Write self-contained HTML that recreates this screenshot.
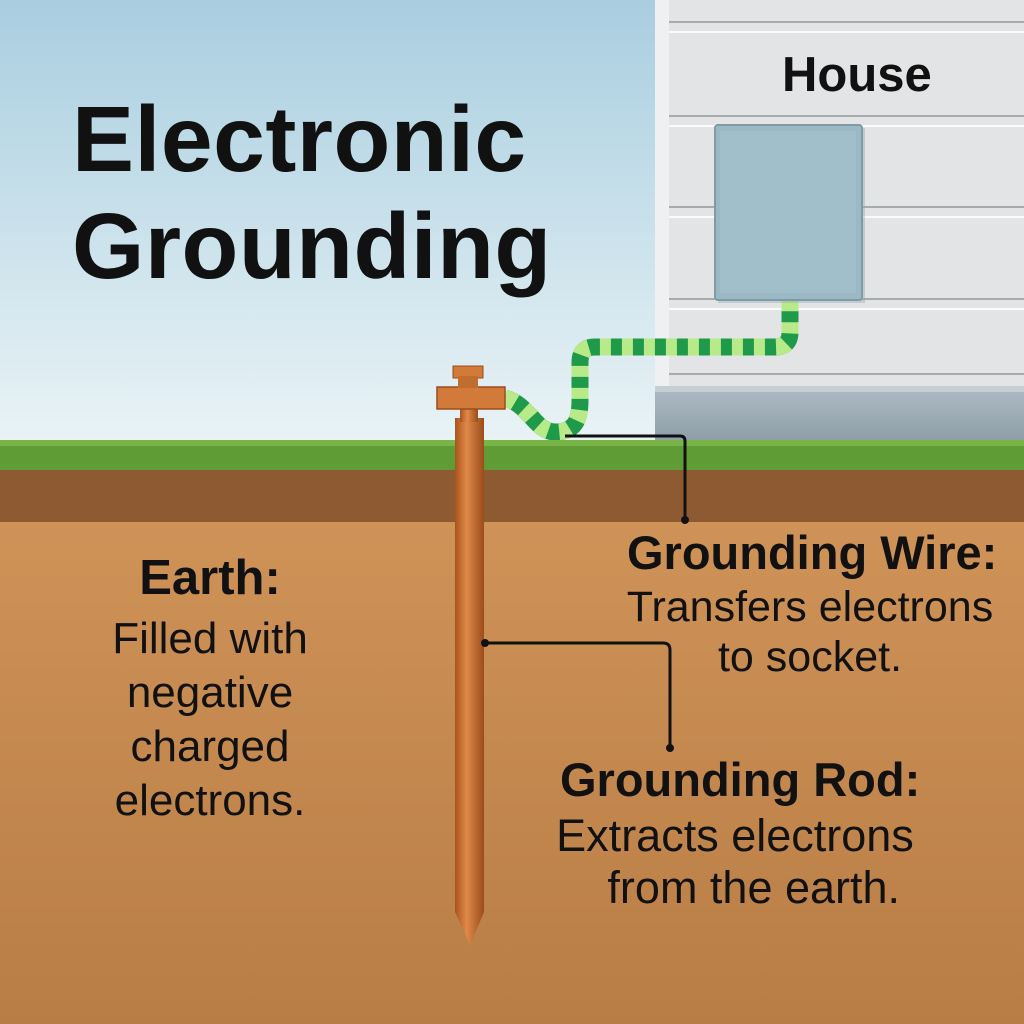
<!DOCTYPE html>
<html><head><style>
body{margin:0;width:1024px;height:1024px;overflow:hidden;font-family:"Liberation Sans",sans-serif;}
.t{position:absolute;white-space:nowrap;color:#111;}
</style></head><body>
<svg width="1024" height="1024" style="position:absolute;left:0;top:0">
<defs>
<linearGradient id="sky" x1="0" y1="0" x2="0" y2="1"><stop offset="0" stop-color="#a9cee0"/><stop offset="1" stop-color="#e9f3f6"/></linearGradient>
<linearGradient id="dirt" x1="0" y1="0" x2="0" y2="1"><stop offset="0" stop-color="#cf9358"/><stop offset="1" stop-color="#b87d45"/></linearGradient>
<linearGradient id="rod" x1="0" y1="0" x2="1" y2="0"><stop offset="0" stop-color="#a9541c"/><stop offset="0.4" stop-color="#e0894a"/><stop offset="1" stop-color="#9a4c1a"/></linearGradient>
<linearGradient id="found" x1="0" y1="0" x2="0" y2="1"><stop offset="0" stop-color="#aebcc4"/><stop offset="1" stop-color="#8d9ea8"/></linearGradient>
</defs>
<rect width="1024" height="440" fill="url(#sky)"/>
<rect x="655" y="0" width="369" height="390" fill="#e3e4e6"/>
<rect x="655" y="0" width="14" height="390" fill="#eef0f1"/>
<g stroke="#a8abae" stroke-width="2">
<line x1="669" y1="22" x2="1024" y2="22"/><line x1="669" y1="116" x2="1024" y2="116"/><line x1="669" y1="207" x2="1024" y2="207"/><line x1="669" y1="299" x2="1024" y2="299"/><line x1="669" y1="374" x2="1024" y2="374"/>
</g>
<g stroke="#fafafa" stroke-width="2">
<line x1="669" y1="32" x2="1024" y2="32"/><line x1="669" y1="126" x2="1024" y2="126"/><line x1="669" y1="217" x2="1024" y2="217"/><line x1="669" y1="309" x2="1024" y2="309"/>
</g>
<rect x="655" y="386" width="369" height="56" fill="url(#found)"/>
<rect x="655" y="386" width="369" height="6" fill="#c4ced3"/>
<path d="M505 398 C530 405 535 432 555 432 C575 432 580 420 580 400 L580 362 Q580 347 595 347 L775 347 Q790 347 790 332 L790 290" fill="none" stroke="#1e9a4a" stroke-width="17"/>
<path d="M505 398 C530 405 535 432 555 432 C575 432 580 420 580 400 L580 362 Q580 347 595 347 L775 347 Q790 347 790 332 L790 290" fill="none" stroke="#b8ea8a" stroke-width="17" stroke-dasharray="11 11"/>
<rect x="718" y="128" width="147" height="175" fill="#8fa5ae" opacity="0.4"/>
<rect x="715" y="125" width="147" height="175" rx="3" fill="#9bb9c4" stroke="#7f9aa5" stroke-width="2"/>
<rect x="720" y="131" width="136" height="162" fill="#a0bfca"/>
<rect x="0" y="440" width="1024" height="30" fill="#5f9c35"/>
<rect x="0" y="440" width="1024" height="6" fill="#79b446"/>
<rect x="0" y="470" width="1024" height="52" fill="#8e5a31"/>
<rect x="0" y="522" width="1024" height="502" fill="url(#dirt)"/>
<path d="M455 418 L484 418 L484 912 L470 945 L455 912 Z" fill="url(#rod)"/>
<rect x="460" y="400" width="18" height="22" fill="url(#rod)"/>
<rect x="437" y="387" width="68" height="22" fill="#d27a3a" stroke="#9a4c1a" stroke-width="1.5"/>
<rect x="453" y="366" width="30" height="12" fill="#d27a3a" stroke="#9a4c1a"/>
<rect x="458" y="376" width="20" height="12" fill="#c06d32"/>
<g fill="none" stroke="#111" stroke-width="3">
<path d="M565 436 L680 436 Q685 436 685 441 L685 520"/>
<path d="M485 643 L663 643 Q670 643 670 650 L670 748"/>
</g>
<circle cx="685" cy="520" r="4" fill="#111"/><circle cx="670" cy="748" r="4" fill="#111"/><circle cx="485" cy="643" r="4" fill="#111"/>
</svg>
<div class="t" style="left:72px;top:86px;font-size:93px;font-weight:bold;line-height:107px;letter-spacing:0.5px;">Electronic<br>Grounding</div>
<div class="t" style="left:782px;top:47px;font-size:49px;font-weight:bold;">House</div>
<div class="t" style="left:80px;top:550px;width:260px;text-align:center;font-size:49px;font-weight:bold;">Earth:</div>
<div class="t" style="left:80px;top:612px;width:260px;text-align:center;font-size:44px;line-height:54px;">Filled with<br>negative<br>charged<br>electrons.</div>
<div class="t" style="left:627px;top:525px;font-size:47px;font-weight:bold;">Grounding Wire:</div>
<div class="t" style="left:600px;top:582px;width:420px;text-align:center;font-size:43px;line-height:50px;">Transfers electrons<br>to socket.</div>
<div class="t" style="left:560px;top:752px;font-size:47px;font-weight:bold;">Grounding Rod:</div>
<div class="t" style="left:530px;top:810px;width:410px;text-align:center;font-size:45px;line-height:52px;">Extracts electrons<br>&nbsp;&nbsp;&nbsp;from the earth.</div>
</body></html>
